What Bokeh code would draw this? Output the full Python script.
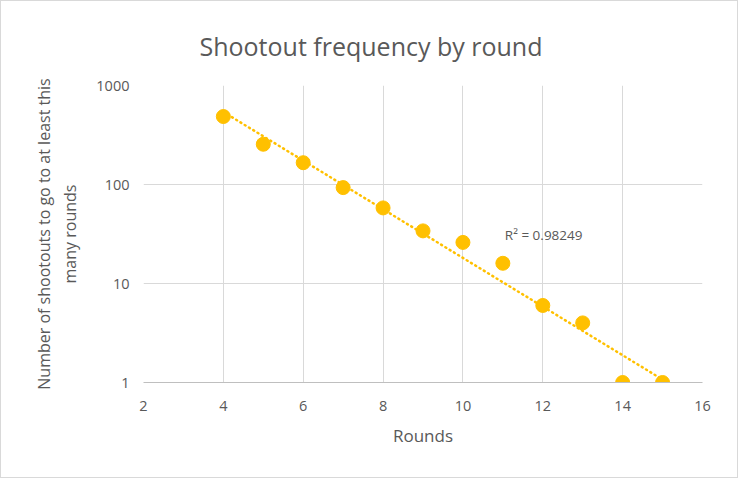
import numpy as np
from bokeh.plotting import figure
from bokeh.models import (ColumnDataSource, FixedTicker, NumeralTickFormatter,
                          Label, Range1d)
from bokeh.embed import file_html
from bokeh.resources import INLINE

# ---- data ----
rounds = [4, 5, 6, 7, 8, 9, 10, 11, 12, 13, 14, 15]
shootouts = [486, 255, 166, 93, 58, 34, 26, 16, 6, 4, 1, 1]
x_ticks = [2, 4, 6, 8, 10, 12, 14, 16]
y_ticks = [1, 10, 100, 1000]
title_text = "Shootout frequency by round"
x_label = "Rounds"
y_label = "Number of shootouts to go to at least this\nmany rounds"
r2_text = "R\u00b2 = 0.98249"

# exponential trendline fitted to the data
xs = np.array(rounds, dtype=float)
ys = np.array(shootouts, dtype=float)
b, a = np.polyfit(xs, np.log(ys), 1)
tx = np.linspace(xs.min(), xs.max(), 50)
ty = np.exp(a + b * tx)

FONT = "Open Sans"
TXT = "#595959"
GRID = "#d9d9d9"
GOLD = "#FFC000"

FL, FR, FT, FB = 142, 701, 84, 381   # frame edges in figure pixels
W, H = 736, 476

p = figure(
    frame_width=FR - FL, frame_height=FB - FT,
    min_border_left=FL, min_border_right=W - FR,
    min_border_top=FT, min_border_bottom=H - FB,
    y_axis_type="log",
    x_range=Range1d(2, 16), y_range=Range1d(1, 1000),
    output_backend="svg", toolbar_location=None,
    background_fill_color="white", border_fill_color="white",
)
p.outline_line_color = None

# title centred on the whole chart rather than the frame
p.title.text = title_text
p.title.text_font = FONT
p.title.text_font_size = "25px"
p.title.text_font_style = "normal"
p.title.text_color = TXT
p.title.align = "left"
p.title.offset = 198 - FL
p.title.standoff = 45

p.line(tx, ty, line_color=GOLD, line_width=2.5, line_dash="1 4", line_cap="round")
src = ColumnDataSource(dict(x=rounds, y=shootouts))
p.scatter("x", "y", source=src, size=14, fill_color=GOLD, line_color=GOLD)

p.xaxis.ticker = FixedTicker(ticks=x_ticks)
p.yaxis.ticker = FixedTicker(ticks=y_ticks)
p.yaxis.formatter = NumeralTickFormatter(format="0")

for ax in (p.xaxis[0], p.yaxis[0]):
    ax.major_tick_line_color = None
    ax.minor_tick_line_color = None
    ax.major_label_text_font = FONT
    ax.major_label_text_font_size = "14.5px"
    ax.major_label_text_color = TXT
    ax.axis_label_text_font = FONT
    ax.axis_label_text_color = TXT
    ax.axis_label_text_font_style = "normal"

p.xaxis.axis_label_text_font_size = "17px"
p.yaxis.axis_label_text_font_size = "16px"
p.xaxis.axis_line_color = "#bfbfbf"
p.yaxis.axis_line_color = None
p.xaxis.major_label_standoff = 12
p.yaxis.major_label_standoff = 8
p.xaxis.axis_label = x_label
p.yaxis.axis_label = y_label
p.xaxis.axis_label_standoff = 10
p.yaxis.axis_label_standoff = 12

p.xgrid.ticker = FixedTicker(ticks=x_ticks)
p.ygrid.ticker = FixedTicker(ticks=y_ticks)
p.xgrid.grid_line_color = GRID
p.ygrid.grid_line_color = GRID
p.xgrid.grid_line_width = 1
p.ygrid.grid_line_width = 1

p.add_layout(Label(x=11.05, y=31, text=r2_text, text_font=FONT,
                   text_font_size="13.5px", text_color=TXT,
                   text_baseline="middle", text_align="left"))

p.styles = {"border": "1px solid #d9d9d9", "box-sizing": "border-box"}

open("out.html", "w").write(file_html(p, INLINE))
